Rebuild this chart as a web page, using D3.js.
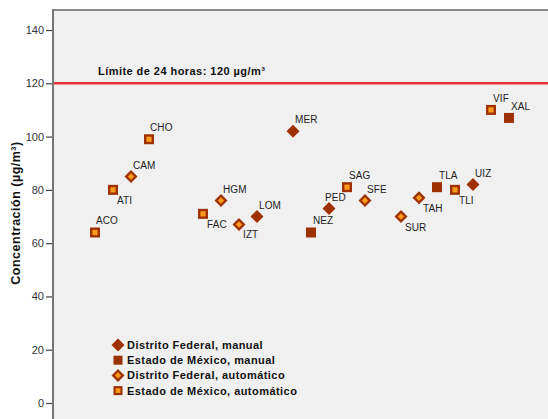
<!DOCTYPE html>
<html><head><meta charset="utf-8">
<script src="https://cdn.jsdelivr.net/npm/d3@7"></script>
<style>body{margin:0;background:#fff}svg{display:block;font-family:"Liberation Sans",Arial,sans-serif}</style>
</head><body><svg id="c" width="548" height="419"></svg>
<script>
// Stations on the categorical x axis ("" = empty slot in the original axis)
const stations = ["ACO","ATI","CAM","CHO","","","FAC","HGM","IZT","LOM","","MER","NEZ","PED","SAG","SFE","","SUR","TAH","TLA","TLI","UIZ","VIF","XAL"];
// PM10 24-h concentration (µg/m³)
const values   = [64, 80, 85, 99, null, null, 71, 76, 67, 70, null, 102, 64, 73, 81, 76, null, 70, 77, 81, 80, 82, 110, 107];
// series index: 0 DF manual, 1 EdoMéx manual, 2 DF automático, 3 EdoMéx automático
const seriesOf = [3, 3, 2, 3, null, null, 3, 2, 2, 0, null, 0, 1, 0, 3, 2, null, 2, 2, 1, 3, 0, 3, 1];
const seriesNames = ["Distrito Federal, manual","Estado de México, manual","Distrito Federal, automático","Estado de México, automático"];
const yTicks = [0, 20, 40, 60, 80, 100, 120, 140];
const limitValue = 120;
const limitLabel = "Límite de 24 horas: 120 µg/m³";
const yTitle = "Concentración (µg/m³)";

const belowLabels = new Set(["ATI","FAC","IZT","SUR","TAH","TLI"]);
const dark = "#9e3100", orange = "#ff9a1a";

const svg = d3.select("#c");
const plotL = 53, plotT = 10, W = 548, H = 419;
svg.append("rect").attr("x", plotL).attr("y", plotT).attr("width", W - plotL).attr("height", H - plotT).attr("fill", "#f0f0f0");

const x = d3.scalePoint().domain(d3.range(stations.length)).range([95, 509]);
const y = d3.scaleLinear().domain([0, 140]).range([403, 30]);

// top border
svg.append("line").attr("x1", plotL - 1).attr("x2", W).attr("y1", plotT).attr("y2", plotT).attr("stroke", "#8a8a8a").attr("stroke-width", 2);

// y axis
const ax = svg.append("g").attr("transform", `translate(${plotL},0)`)
  .call(d3.axisLeft(y).tickValues(yTicks).tickSize(7).tickPadding(2));
ax.select(".domain").remove();
ax.selectAll(".tick line").attr("stroke", "#444").attr("stroke-width", 1.2);
ax.selectAll(".tick text").attr("font-size", 11).attr("fill", "#333").attr("font-family", "Liberation Sans, Arial, sans-serif");
svg.append("line").attr("x1", plotL).attr("x2", plotL).attr("y1", plotT - 1).attr("y2", H).attr("stroke", "#777").attr("stroke-width", 2);

// y title
svg.append("text").attr("transform", `translate(20,213) rotate(-90)`).attr("text-anchor", "middle")
  .attr("font-size", 12.5).attr("letter-spacing", 0.5).attr("font-weight", "bold").attr("fill", "#111").text(yTitle);

// limit line
svg.append("line").attr("x1", plotL + 1).attr("x2", W).attr("y1", y(limitValue)).attr("y2", y(limitValue))
  .attr("stroke", "#e8323a").attr("stroke-width", 2.5);
svg.append("text").attr("x", 98).attr("y", y(limitValue) - 8).attr("font-size", 11).attr("letter-spacing", 0.45).attr("font-weight", "bold")
  .attr("fill", "#111").text(limitLabel);

function drawMarker(g, s, cx, cy, scale) {
  scale = scale || 1;
  if (s === 0 || s === 2) {
    const r = 6.5 * scale;
    g.append("path").attr("d", `M${cx},${cy - r}L${cx + r},${cy}L${cx},${cy + r}L${cx - r},${cy}Z`).attr("fill", dark);
    if (s === 2) {
      const ri = 3.2 * scale;
      g.append("path").attr("d", `M${cx},${cy - ri}L${cx + ri},${cy}L${cx},${cy + ri}L${cx - ri},${cy}Z`).attr("fill", orange);
    }
  } else {
    const h = 5 * scale;
    g.append("rect").attr("x", cx - h).attr("y", cy - h).attr("width", 2 * h).attr("height", 2 * h).attr("fill", dark);
    if (s === 3) {
      const hi = 2.6 * scale;
      g.append("rect").attr("x", cx - hi).attr("y", cy - hi).attr("width", 2 * hi).attr("height", 2 * hi).attr("fill", orange);
    }
  }
}

const pts = svg.append("g");
stations.forEach((st, i) => {
  if (values[i] == null) return;
  const cx = x(i), cy = y(values[i]);
  drawMarker(pts, seriesOf[i], cx, cy);
  const below = belowLabels.has(st);
  let dx = below ? 4 : 2;
  if (st === "PED") dx = -4;
  if (st === "ACO" || st === "CHO") dx = 1;
  pts.append("text").attr("x", cx + dx).attr("y", cy + (below ? 14 : -8))
    .attr("font-size", 10).attr("letter-spacing", 0.1).attr("fill", "#222").text(st);
});

// legend
const lg = svg.append("g");
seriesNames.forEach((n, k) => {
  const ly = 345 + k * 15.2;
  drawMarker(lg, k, 118, ly, k % 2 === 0 ? 1 : 0.9);
  lg.append("text").attr("x", 127).attr("y", ly + 4).attr("font-size", 11).attr("letter-spacing", 0.45).attr("font-weight", "bold")
    .attr("fill", "#111").text(n);
});
</script></body></html>
